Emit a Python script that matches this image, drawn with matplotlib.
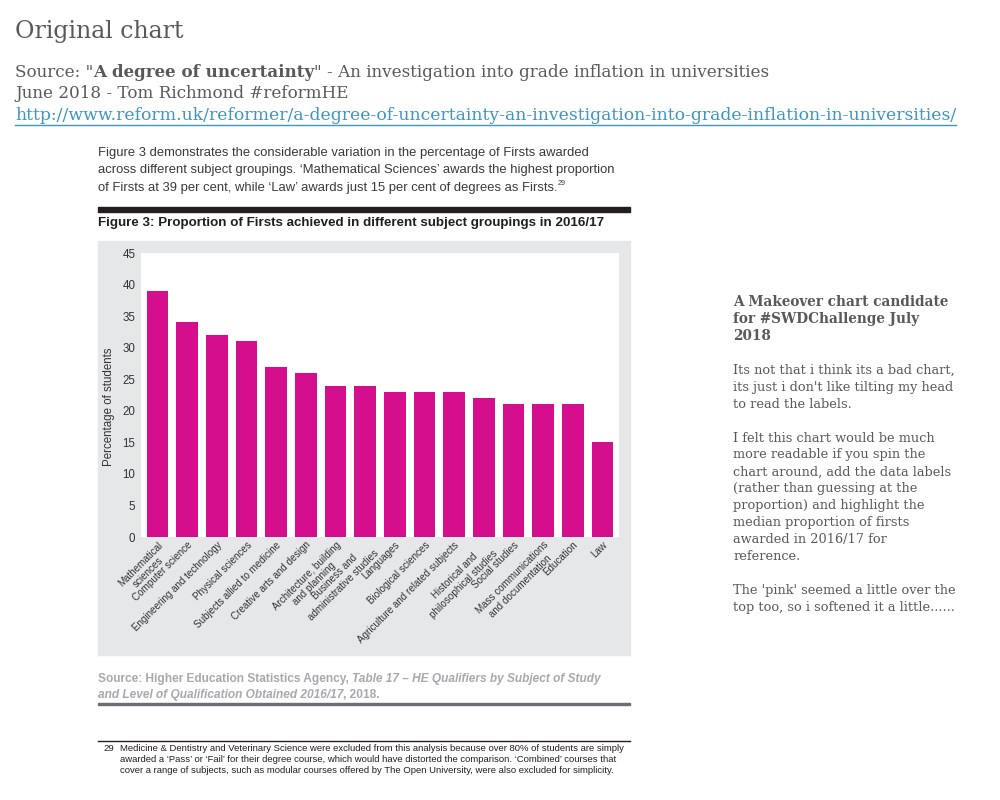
import matplotlib
matplotlib.use('Agg')
import matplotlib.pyplot as plt
from matplotlib.patches import Rectangle


subjects = ['Mathematical\nsciences', 'Computer science', 'Engineering and technology',
            'Physical sciences', 'Subjects allied to medicine', 'Creative arts and design',
            'Architecture, building\nand planning', 'Business and\nadministrative studies',
            'Languages', 'Biological sciences', 'Agriculture and related subjects',
            'Historical and\nphilosophical studies', 'Social studies',
            'Mass communications\nand documentation', 'Education', 'Law']
firsts = [39, 34, 32, 31, 27, 26, 24, 24, 23, 23, 23, 22, 21, 21, 21, 15]
yticks = [0, 5, 10, 15, 20, 25, 30, 35, 40, 45]

intro = ['Figure 3 demonstrates the considerable variation in the percentage of Firsts awarded',
         'across different subject groupings. \u2018Mathematical Sciences\u2019 awards the highest proportion',
         'of Firsts at 39 per cent, while \u2018Law\u2019 awards just 15 per cent of degrees as Firsts.']
footnote = ['Medicine & Dentistry and Veterinary Science were excluded from this analysis because over 80% of students are simply',
            'awarded a \u2018Pass\u2019 or \u2018Fail\u2019 for their degree course, which would have distorted the comparison. \u2018Combined\u2019 courses that',
            'cover a range of subjects, such as modular courses offered by The Open University, were also excluded for simplicity.']
notes_head = ['A Makeover chart candidate', 'for #SWDChallenge July', '2018']
notes_body = [["Its not that i think its a bad chart,", "its just i don't like tilting my head",
               "to read the labels."],
              ["I felt this chart would be much", "more readable if you spin the",
               "chart around, add the data labels", "(rather than guessing at the",
               "proportion) and highlight the", "median proportion of firsts",
               "awarded in 2016/17 for", "reference."],
              ["The 'pink' seemed a little over the", "top too, so i softened it a little......"]]

SERIF = 'DejaVu Serif'
SANS = 'Liberation Sans'
GREY = '#595959'
PINK = '#d40e8c'

fig = plt.figure(figsize=(10, 8), dpi=100)

# page axes in pixel coordinates
page = fig.add_axes([0, 0, 1, 1])
page.set_xlim(0, 1000)
page.set_ylim(800, 0)
page.axis('off')

page.text(15, 38, 'Original chart', fontsize=17, family=SERIF, color=GREY)

s1 = page.text(15, 81, 'Source: "', fontsize=12.1, family=SERIF, color=GREY, va='bottom')
s2 = page.annotate('A degree of uncertainty', xy=(1, 0), xycoords=s1, va='bottom',
                   fontsize=12.1, family=SERIF, color=GREY, fontweight='bold')
page.annotate('" - An investigation into grade inflation in universities', xy=(1, 0), xycoords=s2,
              va='bottom', fontsize=12.1, family=SERIF, color=GREY)
page.text(15, 102, 'June 2018 - Tom Richmond #reformHE', fontsize=12.1, family=SERIF, color=GREY,
          va='bottom')
url = page.text(15, 124, 'http://www.reform.uk/reformer/a-degree-of-uncertainty-an-investigation-into-grade-inflation-in-universities/',
                fontsize=12.4, family=SERIF, color='#3d95c2', va='bottom')
renderer = fig.canvas.get_renderer()
bb = url.get_window_extent(renderer).transformed(page.transData.inverted())
page.plot([bb.x0, bb.x1], [125, 125], color='#3d95c2', lw=1)

# intro paragraph of the report
for i, line in enumerate(intro):
    t = page.text(98, 156 + i * 17.5, line, fontsize=9.4, family=SANS, color='#3a3a3a')
page.annotate('29', xy=(1, 0.55), xycoords=t, va='bottom', fontsize=5, family=SANS, color='#3a3a3a')

page.add_patch(Rectangle((98, 207), 532, 5, color='#231f20'))
page.text(98, 226, 'Figure 3: Proportion of Firsts achieved in different subject groupings in 2016/17',
          fontsize=9.6, family=SANS, fontweight='bold', color='#231f20')
page.add_patch(Rectangle((98, 241), 532, 414, color='#e6e7e8'))

c1 = page.text(98, 685, 'Source: Higher Education Statistics Agency, ', fontsize=8.6, family=SANS,
               fontweight='bold', color='#a7a9ac', va='bottom')
page.annotate('Table 17 \u2013 HE Qualifiers by Subject of Study', xy=(1, 0), xycoords=c1, va='bottom',
              fontsize=8.6, family=SANS, fontweight='bold', fontstyle='italic', color='#a7a9ac')
c2 = page.text(98, 701, 'and Level of Qualification Obtained 2016/17', fontsize=8.6, family=SANS,
               fontweight='bold', fontstyle='italic', color='#a7a9ac', va='bottom')
page.annotate(', 2018.', xy=(1, 0), xycoords=c2, va='bottom', fontsize=8.6, family=SANS,
              fontweight='bold', color='#a7a9ac')
page.add_patch(Rectangle((98, 703), 532, 2, color='#6d6e71'))

page.plot([98, 630], [740.5, 740.5], color='#231f20', lw=1)
page.text(103, 751, '29', fontsize=6.8, family=SANS, color='#231f20')
for i, line in enumerate(footnote):
    page.text(120, 751 + i * 11, line, fontsize=6.8, family=SANS, color='#231f20')

# makeover notes on the right
y = 306
for line in notes_head:
    page.text(733, y, line, fontsize=9.8, family=SERIF, fontweight='bold', color=GREY)
    y += 17
y += 17
for para in notes_body:
    for line in para:
        page.text(733, y, line, fontsize=9.3, family=SERIF, color=GREY)
        y += 16.9
    y += 16.9

# the chart itself
ax = fig.add_axes([141 / 1000, 1 - 537 / 800, 478 / 1000, 284 / 800])
ax.bar(range(len(firsts)), firsts, width=0.72, color=PINK)
ax.set_xlim(-0.556, len(firsts) - 1 + 0.556)
ax.set_ylim(0, 45)
ax.set_yticks(yticks)
ax.set_yticklabels([str(v) for v in yticks], fontsize=8.3, family=SANS, color='#333333')
ax.set_xticks(range(len(firsts)))
ax.set_xticklabels(subjects, rotation=45, ha='right', va='top', rotation_mode='anchor',
                   multialignment='center', fontsize=7.1, family=SANS, color='#333333')
ax.tick_params(length=0)
ax.tick_params(axis='y', pad=4)
ax.tick_params(axis='x', pad=2)
for sp in ax.spines.values():
    sp.set_visible(False)
ax.set_ylabel('Percentage of students', fontsize=8.3, family=SANS, color='#333333')
ax.yaxis.set_label_coords(-0.055, 0.46)

fig.savefig('out.png', dpi=100)
